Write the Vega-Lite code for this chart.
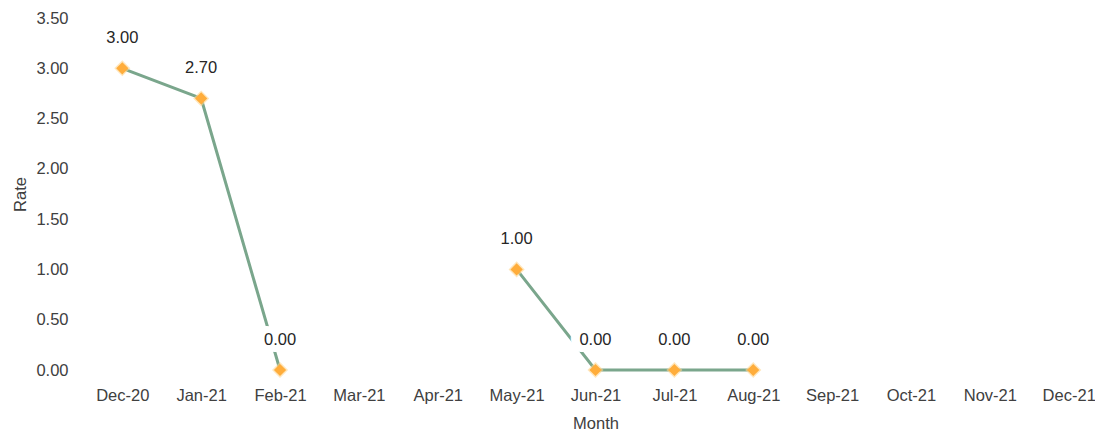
{
  "$schema": "https://vega.github.io/schema/vega-lite/v6.json",
  "autosize": {"type": "none"},
  "padding": {"left": 101, "top": 18, "right": 5, "bottom": 64},
  "width": 989,
  "height": 352,
  "background": "white",
  "config": {
    "view": {"stroke": null},
    "font": "Liberation Sans, Arial, sans-serif"
  },
  "data": {
    "values": [
      {"Month": "Dec-20", "Rate": 3.0},
      {"Month": "Jan-21", "Rate": 2.7},
      {"Month": "Feb-21", "Rate": 0.0},
      {"Month": "Mar-21", "Rate": null},
      {"Month": "Apr-21", "Rate": null},
      {"Month": "May-21", "Rate": 1.0},
      {"Month": "Jun-21", "Rate": 0.0},
      {"Month": "Jul-21", "Rate": 0.0},
      {"Month": "Aug-21", "Rate": 0.0},
      {"Month": "Sep-21", "Rate": null},
      {"Month": "Oct-21", "Rate": null},
      {"Month": "Nov-21", "Rate": null},
      {"Month": "Dec-21", "Rate": null}
    ]
  },
  "encoding": {
    "x": {
      "field": "Month",
      "type": "ordinal",
      "sort": null,
      "scale": {
        "type": "point",
        "padding": 0.27,
        "domain": ["Dec-20","Jan-21","Feb-21","Mar-21","Apr-21","May-21","Jun-21","Jul-21","Aug-21","Sep-21","Oct-21","Nov-21","Dec-21"]
      },
      "axis": {
        "labelAngle": 0,
        "domain": false,
        "ticks": false,
        "grid": false,
        "labelBaseline": "middle",
        "labelPadding": 25,
        "labelFontSize": 16.5,
        "labelColor": "#404040",
        "title": "Month",
        "titleFontSize": 16.5,
        "titleFontWeight": "normal",
        "titleColor": "#404040",
        "titlePadding": 12
      }
    },
    "y": {
      "field": "Rate",
      "type": "quantitative",
      "scale": {"domain": [0, 3.5], "nice": false},
      "axis": {
        "values": [0, 0.5, 1, 1.5, 2, 2.5, 3, 3.5],
        "format": ".2f",
        "domain": false,
        "ticks": false,
        "grid": false,
        "labelPadding": 33,
        "labelFontSize": 16.5,
        "labelColor": "#404040",
        "title": "Rate",
        "titleFontSize": 16.5,
        "titleFontWeight": "normal",
        "titleColor": "#404040",
        "titlePadding": 7
      }
    }
  },
  "layer": [
    {
      "mark": {"type": "line", "color": "#7aa68c", "strokeWidth": 3, "invalid": "break-paths-show-domains"}
    },
    {
      "mark": {"type": "text", "dy": -30, "fontSize": 16.5, "stroke": "white", "strokeWidth": 14, "strokeJoin": "round", "fill": "white", "text": "0000"}
    },
    {
      "mark": {"type": "point", "shape": "diamond", "filled": true, "size": 260, "color": "#ffd58f", "opacity": 0.6}
    },
    {
      "mark": {"type": "point", "shape": "diamond", "filled": true, "size": 150, "color": "#ffad3b", "opacity": 1}
    },
    {
      "mark": {"type": "text", "dy": -30, "fontSize": 16.5, "color": "#262626"},
      "encoding": {"text": {"field": "Rate", "type": "quantitative", "format": ".2f"}}
    }
  ]
}
